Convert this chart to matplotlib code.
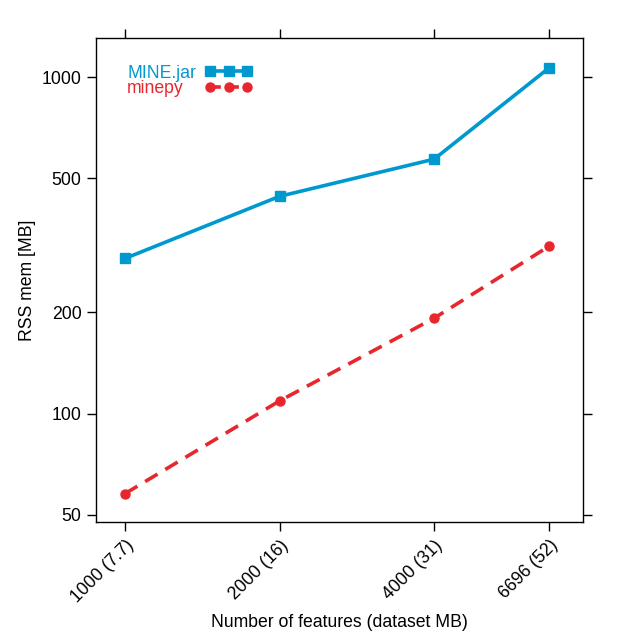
import matplotlib
matplotlib.use("Agg")
import matplotlib.pyplot as plt
from matplotlib.ticker import FixedLocator, NullLocator
from matplotlib.lines import Line2D

plt.rcParams['font.family'] = ['Liberation Sans', 'DejaVu Sans']

features = [1000, 2000, 4000, 6696]
xticklabels = ["1000 (7.7)", "2000 (16)", "4000 (31)", "6696 (52)"]
mine_jar = [289, 442, 570, 1064]
minepy = [57.8, 109, 192, 314]
yticks = [50, 100, 200, 500, 1000]
series_names = ["MINE.jar", "minepy"]

blue = "#0099CF"
red = "#E8262E"
FS = 12.7

fig = plt.figure(figsize=(6.23, 6.42), dpi=100)
ax = fig.add_axes([96/623, 1-522/642, (583-96)/623, (522-38)/642])

l1, = ax.plot(features, mine_jar, color=blue, lw=2.6, marker='s', ms=6.5)
l2, = ax.plot(features, minepy, color=red, lw=2.6, ls=(0, (4, 2.5)), marker='o', ms=6.5)

ax.set_xscale('log')
ax.set_yscale('log')
ax.set_xlim(878, 7800)
ax.set_ylim(47.6, 1306)

ax.xaxis.set_major_locator(FixedLocator(features))
ax.xaxis.set_minor_locator(NullLocator())
ax.set_xticklabels(xticklabels, rotation=45, ha='right', rotation_mode='anchor', fontsize=FS)
ax.yaxis.set_major_locator(FixedLocator(yticks))
ax.yaxis.set_minor_locator(NullLocator())
ax.set_yticklabels([str(v) for v in yticks], fontsize=FS)

ax.tick_params(which='major', direction='out', length=6.5, width=1, top=True, right=True,
               labeltop=False, labelright=False, pad=4)
for s in ax.spines.values():
    s.set_linewidth(1)

ax.set_xlabel("Number of features (dataset MB)", fontsize=FS, labelpad=5.5)
ax.set_ylabel("RSS mem [MB]", fontsize=FS, labelpad=4)

# legend: texts (left aligned) and keys in two aligned legends
blank = [Line2D([], [], alpha=0), Line2D([], [], alpha=0)]
common = dict(frameon=False, fontsize=FS, borderpad=0, borderaxespad=0,
              labelspacing=-0.08, loc='upper left')
leg_txt = ax.legend(blank, series_names, handlelength=0, handletextpad=0,
                    bbox_to_anchor=(0.0637, 0.945), **common)
for t, c in zip(leg_txt.get_texts(), [blue, red]):
    t.set_color(c)
ax.add_artist(leg_txt)
k1 = Line2D([], [], color=blue, lw=2.6, marker='s', ms=6.5)
k2 = Line2D([], [], color=red, lw=2.6, ls=(0, (3, 2)), marker='o', ms=6.5)
ax.legend([k1, k2], ["", ""], numpoints=3, handlelength=2.68, handletextpad=0,
          bbox_to_anchor=(0.224, 0.945), **common)

fig.savefig("out.png", dpi=100)
